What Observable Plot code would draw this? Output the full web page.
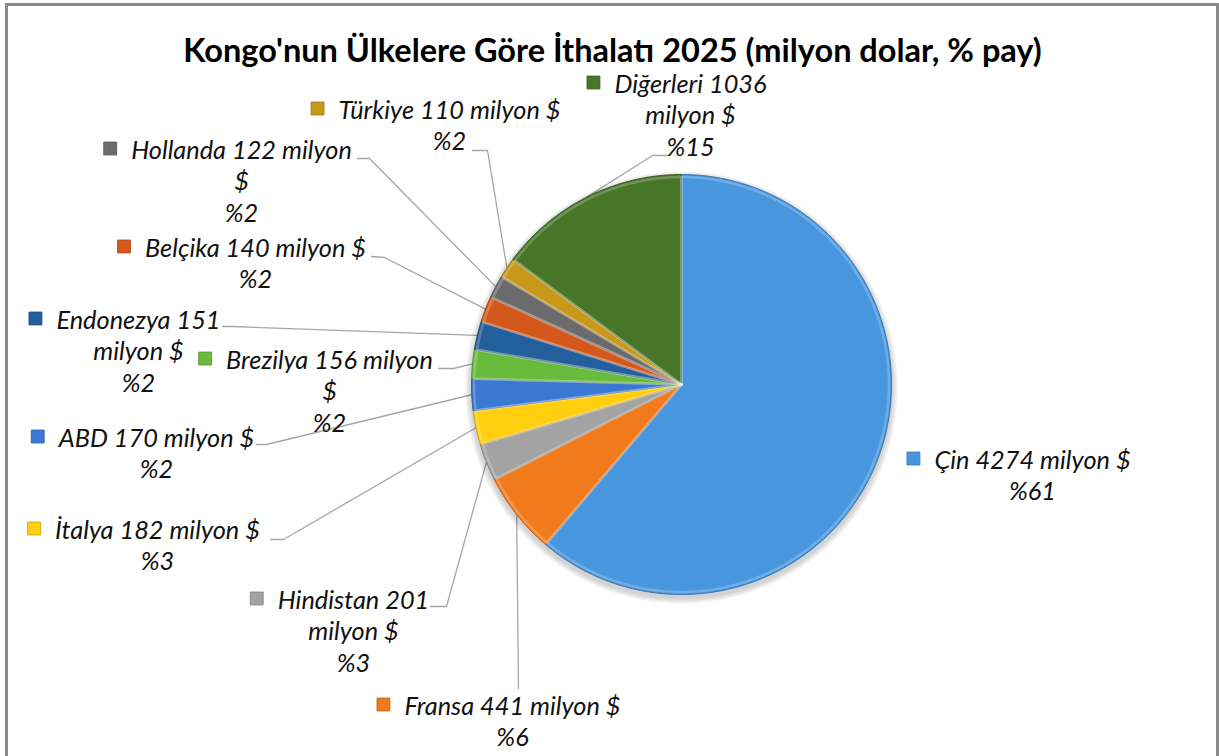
<!DOCTYPE html>
<html><head><meta charset="utf-8">
<script src="https://cdn.jsdelivr.net/npm/d3@7"></script>
<script src="https://cdn.jsdelivr.net/npm/@observablehq/plot@0.6"></script>
<style>
html,body{margin:0;padding:0;background:#fff;width:1219px;height:756px;overflow:hidden;}
#frame{position:absolute;left:5px;top:3px;width:1214px;height:800px;border:3px solid #8a8a8a;box-sizing:border-box;}
#title{position:absolute;left:0;top:30px;width:1225px;text-align:center;font-family:Lato;font-weight:bold;line-height:40px;color:#000;white-space:nowrap;}
#chart{position:absolute;left:0;top:68px;}
</style></head>
<body><div id="frame"></div><div id="title"></div><div id="chart"></div>
<script>
// ---- data ----
const titleText = "Kongo'nun Ülkelere Göre İthalatı 2025 (milyon dolar, % pay)";
const countries = ["Çin","Fransa","Hindistan","İtalya","ABD","Brezilya","Endonezya","Belçika","Hollanda","Türkiye","Diğerleri"];
const values = [4274,441,201,182,170,156,151,140,122,110,1036];
const shares = [61,6,3,3,2,2,2,2,2,2,15];
const unit = "milyon $";
const colors = ["#4896de","#f07a1c","#a3a3a3","#ffcf10","#3a78d4","#68bb3c","#235f9c","#d4581b","#6b6b6b","#c7981a","#487629"];

// ---- layout (page pixels) ----
const CX = 681, CY = 384, R = 210, SVG_TOP = 68;
const wrap = [[4],[4],[2,2],[4],[4],[3,1],[2,2],[4],[3,1],[4],[2,2]];
const labelPos = [[1032,460],[512,706],[353,600],[157,530],[156,438],[329,360],[138,320],[255,248],[241,150],[449,110],[690,84]];
const leaderStart = [null,[[518,688]],[[430,606],[446,606]],[[270,539],[283,539]],[[256,444],[266,444]],[[438,368],[453,368]],[[222,326],[232,326]],[[371,256],[384,257]],[[357,158],[369,158]],[[472,150],[487,150]],[[668,155],[652,155]]];
const LINE_H = 31.7;

const toU = px => (px - CX) / R, toV = py => (CY - py) / R;

const ctx = document.createElement("canvas").getContext("2d");
function measure(text, size, weight, style) { ctx.font = `${style} ${weight} ${size}px Lato`; return ctx.measureText(text).width; }
const fs = 20 * 222 / measure("Türkiye 110 milyon $", 20, "normal", "italic");
const tfs = 27 * 859 / measure(titleText, 27, "bold", "normal");
const titleEl = document.getElementById("title");
titleEl.textContent = titleText; titleEl.style.fontSize = tfs + "px";

const pie = d3.pie().sort(null).value(d => d)(values);

function slicePoints(scale) {
  const pts = [];
  countries.forEach((name, i) => {
    const a0 = pie[i].startAngle, a1 = pie[i].endAngle;
    const n = Math.max(2, Math.ceil((a1 - a0) / (Math.PI / 360)));
    pts.push({name, u: 0, v: 0});
    for (let k = 0; k <= n; k++) { const a = a0 + (a1 - a0) * k / n; pts.push({name, u: scale * Math.sin(a), v: scale * Math.cos(a)}); }
    pts.push({name, u: 0, v: 0});
  });
  return pts;
}
const slicePts = slicePoints(1);
const bevelPts = slicePoints(0.988);

const leaderPts = [];
countries.forEach((name, i) => {
  if (!leaderStart[i]) return;
  leaderStart[i].forEach(([px, py]) => leaderPts.push({name, u: toU(px), v: toV(py)}));
  const mid = (pie[i].startAngle + pie[i].endAngle) / 2;
  leaderPts.push({name, u: Math.sin(mid), v: Math.cos(mid)});
});

const textRows = [], markers = [];
countries.forEach((name, i) => {
  const words = [name, String(values[i]), ...unit.split(" ")];
  const lines = []; let k = 0;
  wrap[i].forEach(c => { lines.push(words.slice(k, k + c).join(" ")); k += c; });
  lines.push("%" + shares[i]);
  const [cx, cy] = labelPos[i];
  lines.forEach((t, j) => textRows.push({t, u: toU(cx), v: toV(cy + j * LINE_H)}));
  const w1 = measure(lines[0], fs, "normal", "italic");
  markers.push({name, u: toU(cx - w1 / 2 - 21), v: toV(cy - 2)});
});

const dark = c => d3.color(c).darker(0.7).formatHex();
const idx = new Map(countries.map((c, i) => [c, i]));
const center = [{u: 0, v: 0}];

const plot = Plot.plot({
  width: 1219, height: 688, margin: 0,
  x: {domain: [-1, 1], range: [CX - R, CX + R], axis: null},
  y: {domain: [-1, 1], range: [CY - SVG_TOP + R, CY - SVG_TOP - R], axis: null},
  color: {type: "identity"},
  style: {background: "transparent", overflow: "visible"},
  marks: [
    Plot.line(leaderPts, {x: "u", y: "v", z: "name", stroke: "#a6a6a6", strokeWidth: 1.3}),
    ...[6, 4, 2].map(e => Plot.dot(center, {x: "u", y: "v", r: R + e, dy: 3, fill: "#000", fillOpacity: 0.06, stroke: "none"})),
    Plot.line(slicePts, {x: "u", y: "v", z: "name", fill: d => colors[idx.get(d.name)], stroke: d => dark(colors[idx.get(d.name)]), strokeWidth: 1}),
    Plot.line(bevelPts, {x: "u", y: "v", z: "name", stroke: "#ffffff", strokeOpacity: 0.22, strokeWidth: 2.5}),
    Plot.dot(markers, {x: "u", y: "v", symbol: "square", r: 7.3, fill: d => colors[idx.get(d.name)], stroke: d => dark(colors[idx.get(d.name)]), strokeWidth: 0.8}),
    Plot.text(textRows, {x: "u", y: "v", text: "t", fontSize: fs, fontStyle: "italic", fontFamily: "Lato", fill: "#111"})
  ]
});

document.getElementById("chart").appendChild(plot);
</script>
</body></html>
